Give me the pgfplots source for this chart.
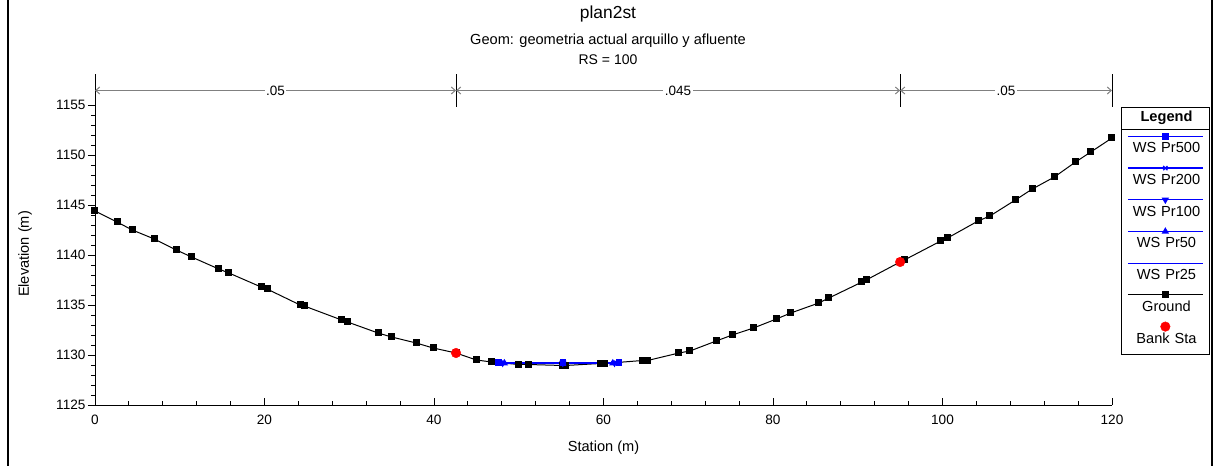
\documentclass[border=0pt]{standalone}
\usepackage{fontspec}
\setmainfont{Liberation Sans}
\usepackage{pgfplots}
\usepackage{pgfplotstable}
\pgfplotsset{compat=1.18}
\usetikzlibrary{arrows.meta}

\pgfplotstableread{
s e
0 1144.4
2.6 1143.3
4.4 1142.5
7.0 1141.6
9.6 1140.5
11.4 1139.8
14.6 1138.6
15.8 1138.2
19.6 1136.8
20.3 1136.6
24.2 1135.0
24.7 1134.9
29.1 1133.5
29.8 1133.3
33.4 1132.2
35.0 1131.8
37.9 1131.2
39.9 1130.7
42.6 1130.2
45.0 1129.5
46.8 1129.3
50.0 1129.05
51.1 1129.05
55.2 1128.95
55.5 1128.95
59.6 1129.15
60.1 1129.15
64.6 1129.45
65.2 1129.45
68.9 1130.2
70.2 1130.4
73.3 1131.4
75.2 1132.0
77.7 1132.7
80.4 1133.6
82.1 1134.2
85.4 1135.2
86.6 1135.7
90.5 1137.3
91.0 1137.5
95.0 1139.3
95.5 1139.5
99.8 1141.4
100.6 1141.7
104.2 1143.4
105.6 1143.9
108.6 1145.5
110.6 1146.6
113.2 1147.8
115.7 1149.3
117.5 1150.3
120.0 1151.7
}\ground

\begin{document}
\begin{tikzpicture}
\useasboundingbox (-95pt,-61pt) rectangle (1121pt,405pt);
\begin{axis}[
  at={(0pt,0pt)}, anchor=south west,
  scale only axis, width=1017pt, height=330pt,
  xmin=0, xmax=120, ymin=1125, ymax=1158,
  axis lines*=left,
  axis line style={black, line width=0.9pt, -},
  clip=false,
  xtick={0,20,...,120},
  ytick={1125,1130,...,1155},
  minor x tick num=4,
  minor y tick num=4,
  tick align=inside,
  major tick length=7pt,
  minor tick length=4pt,
  tick style={black, line width=0.8pt},
  every major y tick/.style={xshift=-7pt},
  every minor y tick/.style={xshift=-4pt},
  /pgf/number format/assume math mode=true,
  /pgf/number format/1000 sep={},
  ticklabel style={font=\fontsize{13.6}{15}\selectfont},
  yticklabel style={xshift=-6pt},
  xticklabel style={yshift=-6pt},
  xlabel={Station (m)},
  ylabel={Elevation (m)},
  label style={font=\fontsize{14.6}{16}\selectfont},
  xlabel style={at={(axis description cs:0.5,-0.1303)}, anchor=center},
  ylabel style={at={(axis description cs:-0.0688,0.4576)}, anchor=center},
  legend image code/.code={
    \path (0pt,0pt);
    \draw[overlay,#1,mark repeat=2,mark phase=2] plot coordinates {(2pt,12.5pt) (39.5pt,12.5pt) (77pt,12.5pt)};
  },
  legend style={
    at={(axis description cs:1.01278,0.89394)}, anchor=north west,
    draw=none, fill=none, inner sep=0pt,
    row sep=17.7pt, column sep=0pt,
    cells={anchor=center},
    nodes={text width=80pt, align=center, text height=11pt, text depth=3pt,
           inner sep=0pt, font=\fontsize{14.6}{17}\selectfont},
  },
]
\addlegendimage{empty legend}
\addlegendentry{\textbf{Legend}}

\addplot[black, line width=1pt, mark=square*, mark size=3pt, forget plot]
  table[x=s, y=e] {\ground};

\addplot[blue, line width=1.3pt, mark=square*, mark size=2.6pt]
  coordinates {(47.6,1129.25) (55.2,1129.25) (61.8,1129.25)};
\addlegendentry{WS Pr500}
\addplot[blue, line width=1.3pt, mark=x, mark size=3pt, mark options={line width=1.2pt}]
  coordinates {(47.9,1129.22) (55.2,1129.22) (61.5,1129.22)};
\addlegendentry{WS Pr200}
\addplot[blue, line width=1.3pt, mark=triangle*, mark size=3pt, mark options={rotate=180}]
  coordinates {(48.1,1129.20) (55.2,1129.20) (61.3,1129.20)};
\addlegendentry{WS Pr100}
\addplot[blue, line width=1.3pt, mark=triangle*, mark size=3pt]
  coordinates {(48.3,1129.18) (55.2,1129.18) (61.1,1129.18)};
\addlegendentry{WS Pr50}
\addplot[blue, line width=1.3pt, no marks]
  coordinates {(48.5,1129.16) (61.0,1129.16)};
\addlegendentry{WS Pr25}

\addlegendimage{black, line width=1pt, mark=square*, mark size=3pt}
\addlegendentry{Ground}

\addplot[only marks, red, mark=*, mark size=4.8pt]
  coordinates {(42.6,1130.2) (95.0,1139.3)};
\addlegendentry{Bank Sta}

% Manning's n annotations
\draw[black, line width=0.9pt] (axis cs:0,1154.8) -- (axis cs:0,1158.1);
\draw[black, line width=0.9pt] (axis cs:42.6,1154.8) -- (axis cs:42.6,1158.1);
\draw[black, line width=0.9pt] (axis cs:95,1154.8) -- (axis cs:95,1158.1);
\draw[black, line width=0.9pt] (axis cs:120,1154.8) -- (axis cs:120,1158.1);
\draw[gray, line width=1.3pt, {Straight Barb[length=4pt,width=7pt,line width=1pt]}-{Straight Barb[length=4pt,width=7pt,line width=1pt]}]
  (axis cs:0,1156.45) -- (axis cs:42.6,1156.45)
  node[midway, fill=white, inner sep=1.5pt, text=black, font=\fontsize{13.5}{15}\selectfont] {.05};
\draw[gray, line width=1.3pt, {Straight Barb[length=4pt,width=7pt,line width=1pt]}-{Straight Barb[length=4pt,width=7pt,line width=1pt]}]
  (axis cs:42.6,1156.45) -- (axis cs:95,1156.45)
  node[midway, fill=white, inner sep=1.5pt, text=black, font=\fontsize{13.5}{15}\selectfont] {.045};
\draw[gray, line width=1.3pt, {Straight Barb[length=4pt,width=7pt,line width=1pt]}-{Straight Barb[length=4pt,width=7pt,line width=1pt]}]
  (axis cs:95,1156.45) -- (axis cs:120,1156.45)
  node[midway, fill=white, inner sep=1.5pt, text=black, font=\fontsize{13.5}{15}\selectfont] {.05};
\end{axis}

% titles
\node[font=\fontsize{17.4}{19}\selectfont] at (513pt,391pt) {plan2st};
\node[font=\fontsize{14.6}{16}\selectfont] at (513pt,364pt) {Geom: geometria actual arquillo y afluente};
\node[font=\fontsize{14}{16}\selectfont] at (513pt,345pt) {RS = 100};

% legend box
\draw[black, line width=0.8pt] (1026pt,298pt) rectangle (1114pt,51pt);
\draw[black, line width=0.8pt] (1026pt,276pt) -- (1114pt,276pt);

% outer frame
\draw[black, line width=2.5pt] (-87pt,-61pt) -- (-87pt,405pt);
\draw[black, line width=1.5pt] (1117pt,-61pt) -- (1117pt,405pt);
\end{tikzpicture}
\end{document}
